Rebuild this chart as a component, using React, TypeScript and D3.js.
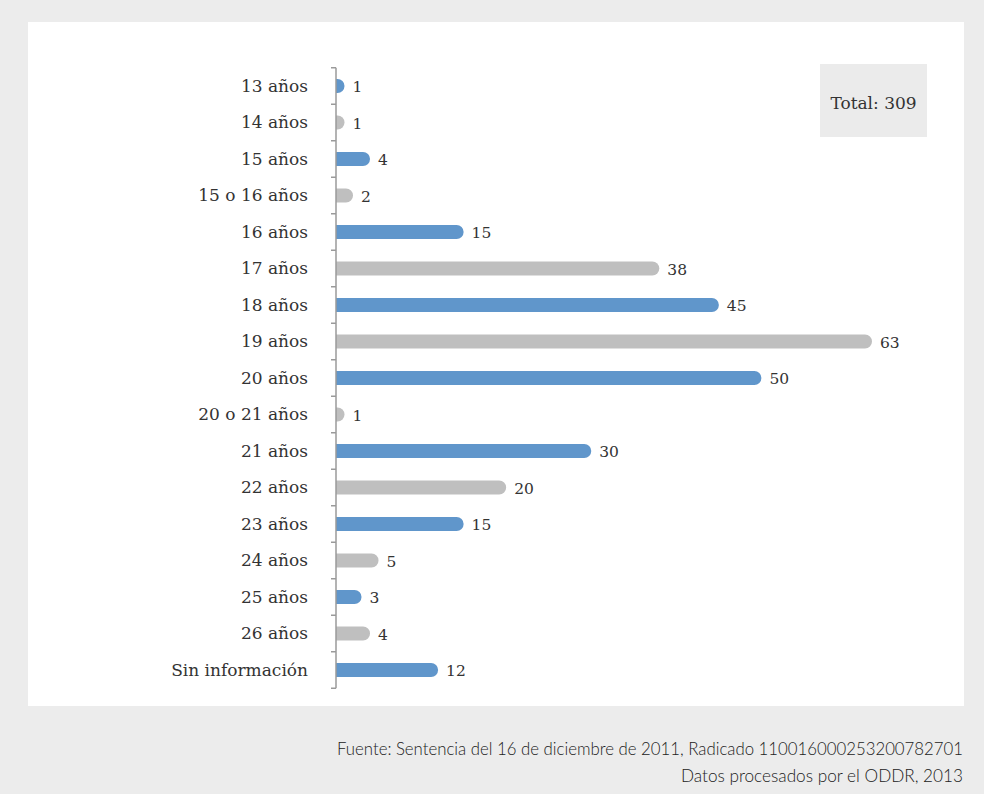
import React from "react";
import * as d3 from "d3";

const categories = ["13 años","14 años","15 años","15 o 16 años","16 años","17 años","18 años","19 años","20 años","20 o 21 años","21 años","22 años","23 años","24 años","25 años","26 años","Sin información"];
const values = [1,1,4,2,15,38,45,63,50,1,30,20,15,5,3,4,12];
const totalLabel = "Total: 309";
const footer1 = "Fuente: Sentencia del 16 de diciembre de 2011, Radicado 110016000253200782701";
const footer2 = "Datos procesados por el ODDR, 2013";

const W = 984, H = 794;
const BLUE = "#6096cb", GRAY = "#bfbfbf";

export default function App() {
  const x0 = 336;
  const x = d3.scaleLinear().domain([0, 63]).range([x0, 872]);
  const y = d3.scaleBand().domain(categories).range([67.75, 688.25]).paddingInner(0).paddingOuter(0);
  const bh = 14;
  const serif = "'DejaVu Serif', 'Liberation Serif', serif";
  const barPath = (v: number, cy: number) => {
    const xe = x(v);
    const r = bh / 2;
    const top = cy - r, bot = cy + r;
    const p = d3.path();
    const xs = Math.max(x0, xe - r);
    p.moveTo(x0, top);
    p.lineTo(xs, top);
    p.arc(xs, cy, r, -Math.PI / 2, Math.PI / 2, false);
    p.lineTo(x0, bot);
    p.closePath();
    return p.toString();
  };
  const ticks = [...categories.map(c => y(c)!), y.range()[1]];
  return (
    <svg width={W} height={H} style={{ position: "absolute", left: 0, top: 0, display: "block" }}>
      <rect x={0} y={0} width={W} height={H} fill="#ececec" />
      <rect x={28} y={22} width={936} height={684} fill="#ffffff" />
      {categories.map((c, i) => {
        const cy = y(c)! + y.bandwidth() / 2;
        return (
          <g key={c}>
            <path d={barPath(values[i], cy)} fill={i % 2 === 0 ? BLUE : GRAY} />
            <text x={308} y={cy} dy="0.35em" textAnchor="end" fontFamily={serif} fontSize={17} fill="#333">{c}</text>
            <text x={x(values[i]) + 8} y={cy + 1} dy="0.35em" textAnchor="start" fontFamily={serif} fontSize={15.5} fill="#333">{values[i]}</text>
          </g>
        );
      })}
      <line x1={x0} x2={x0} y1={y.range()[0]} y2={y.range()[1]} stroke="#9a9a9a" strokeWidth={1.5} />
      {ticks.map((t, i) => (
        <line key={i} x1={x0 - 5} x2={x0} y1={t} y2={t} stroke="#9a9a9a" strokeWidth={1.5} />
      ))}
      <rect x={820} y={64} width={107} height={73} fill="#ebebeb" />
      <text x={873.5} y={103} dy="0.35em" textAnchor="middle" fontFamily={serif} fontSize={17} fill="#333">{totalLabel}</text>
      <text x={963} y={749} dy="0.35em" textAnchor="end" fontFamily="Lato, sans-serif" fontWeight={300} fontSize={16.8} fill="#222">{footer1}</text>
      <text x={963} y={776} dy="0.35em" textAnchor="end" fontFamily="Lato, sans-serif" fontWeight={300} fontSize={17.2} fill="#222">{footer2}</text>
    </svg>
  );
}
